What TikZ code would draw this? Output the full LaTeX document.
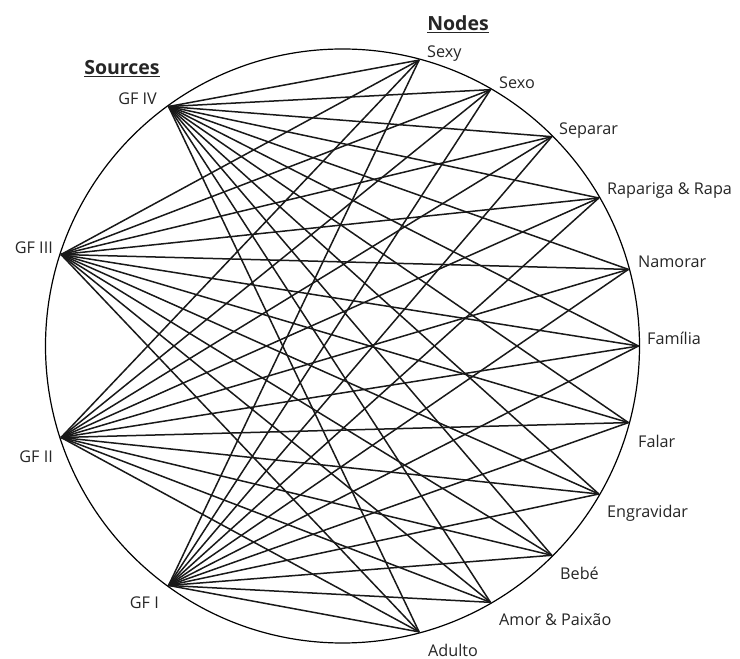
\documentclass[tikz,border=0pt]{standalone}
\usepackage{fontspec}
\setmainfont{Open Sans}
\usetikzlibrary{calc}
\begin{document}
\begin{tikzpicture}[x=1pt,y=1pt,
  link/.style={line width=1.5pt,black!90},
  rim/.style={line width=1.2pt,black},
  lbl/.style={inner sep=0pt,font=\fontsize{16.2}{19}\selectfont,text=black!85},
  ttl/.style={inner sep=0pt,font=\fontsize{19.5}{22}\selectfont\bfseries,text=black!85}]
\useasboundingbox[fill=white] (0,0) rectangle (740,659);
\coordinate (C) at (342.5,313);
\draw[rim] (C) circle[radius=297];
% sources
\coordinate (s4) at ($(C)+(126:296)$);
\coordinate (s3) at ($(C)+(162:296)$);
\coordinate (s2) at ($(C)+(198:296)$);
\coordinate (s1) at ($(C)+(234:296)$);
% nodes
\foreach \i/\a in {1/75,2/60,3/45,4/30,5/15,6/0,7/-15,8/-30,9/-45,10/-60,11/-75}
  \coordinate (n\i) at ($(C)+(\a:296)$);
\foreach \s in {s1,s2,s3,s4}
  \foreach \n in {n1,n2,n3,n4,n5,n6,n7,n8,n9,n10,n11}
    \draw[link] (\s) -- (\n);
% labels
\node[ttl,anchor=center] (tsrc) at (122,590) {\underline{Sources}};
\node[ttl,anchor=center] (tnod) at (458,635) {\underline{Nodes}};
\node[lbl,anchor=east] (l4) at (157,560) {GF IV};
\node[lbl,anchor=east] (l3) at (53,411) {GF III};
\node[lbl,anchor=east] (l2) at (53,202) {GF II};
\node[lbl,anchor=east] (l1) at (159,56) {GF I};
\node[lbl,anchor=west] (m1) at (427,605) {Sexy};
\node[lbl,anchor=west] (m2) at (499,576) {Sexo};
\node[lbl,anchor=west] (m3) at (559,528) {Separar};
\node[lbl,anchor=west] (m4) at (607,468) {Rapariga \& Rapa};
\node[lbl,anchor=west] (m5) at (638,397) {Namorar};
\node[lbl,anchor=west] (m6) at (647,321) {Família};
\node[lbl,anchor=west] (m7) at (638,218) {Falar};
\node[lbl,anchor=west] (m8) at (607,146) {Engravidar};
\node[lbl,anchor=west] (m9) at (560,86) {Bebé};
\node[lbl,anchor=west] (m10) at (499,39) {Amor \& Paixão};
\node[lbl,anchor=west] (m11) at (428,9) {Adulto};
\end{tikzpicture}
\end{document}
